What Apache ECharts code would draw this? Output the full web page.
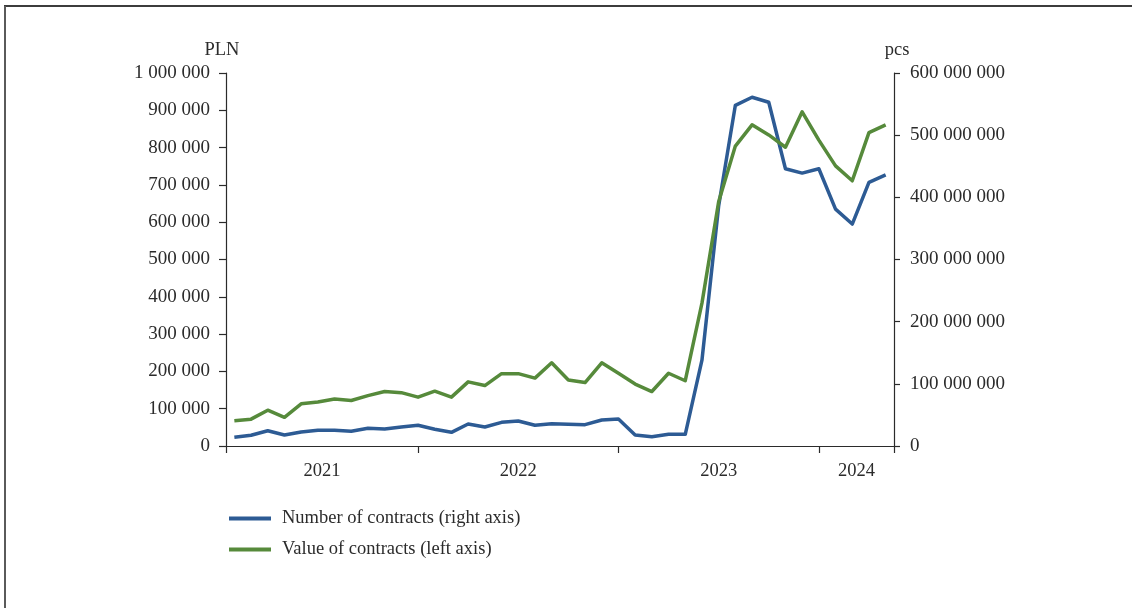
<!DOCTYPE html>
<html>
<head>
<meta charset="utf-8">
<script src="https://cdn.jsdelivr.net/npm/echarts@6/dist/echarts.min.js"></script>
<style>
  html, body { margin: 0; padding: 0; background: #ffffff; }
  #chart { width: 1132px; height: 608px; }
</style>
</head>
<body>
<div id="chart"></div>
<script>
// Monthly observations, Jan 2021 – Apr 2024
const months = [
  '2021-01','2021-02','2021-03','2021-04','2021-05','2021-06','2021-07','2021-08','2021-09','2021-10','2021-11','2021-12',
  '2022-01','2022-02','2022-03','2022-04','2022-05','2022-06','2022-07','2022-08','2022-09','2022-10','2022-11','2022-12',
  '2023-01','2023-02','2023-03','2023-04','2023-05','2023-06','2023-07','2023-08','2023-09','2023-10','2023-11','2023-12',
  '2024-01','2024-02','2024-03','2024-04'
];

// Year labels shown under the time axis
const years = ['2021', '2022', '2023', '2024'];

// Number of contracts, pcs (right axis)
const contractsCount = [
  14000000, 17200000, 24600000, 17700000, 22500000, 25300000, 25300000, 23600000, 28500000, 27300000, 30600000, 33300000,
  26900000, 22000000, 35400000, 30600000, 38100000, 40200000, 33300000, 35900000, 34900000, 34300000, 41800000, 43400000,
  17700000, 15000000, 18800000, 18800000, 138000000, 386000000, 548000000, 561000000, 553000000, 446000000, 439000000, 446000000,
  381000000, 357000000, 424000000, 436000000
];

// Value of contracts, PLN (left axis)
const contractsValue = [
  68000, 72000, 96000, 77000, 113000, 118000, 126000, 122000, 135000, 146000, 143000, 131000,
  147000, 131000, 172000, 162000, 194000, 194000, 182000, 223000, 177000, 170000, 223000, 195000,
  166000, 146000, 195000, 175000, 383000, 655000, 804000, 861000, 834000, 801000, 896000, 820000,
  751000, 711000, 840000, 861000
];

// Left and right value-axis ranges
const leftAxisTicks = [0, 100000, 200000, 300000, 400000, 500000, 600000, 700000, 800000, 900000, 1000000];
const rightAxisTicks = [0, 100000000, 200000000, 300000000, 400000000, 500000000, 600000000];

const BLUE = '#2d5b94';
const GREEN = '#568a3b';
const INK = '#2b2b2b';
const FONT = '"Liberation Serif", "Times New Roman", serif';

// Year dividers on a continuous 0..N scale (one unit per month band):
// a divider sits at the centre of each December, labels sit halfway between dividers.
const n = months.length;
const yearBounds = [0];
years.forEach(function (y) {
  let last = -1;
  months.forEach(function (m, i) { if (m.slice(0, 4) === y) last = i; });
  yearBounds.push(last === n - 1 ? n : last + 0.5);
});
const yearLabelPos = years.map(function (y, i) { return (yearBounds[i] + yearBounds[i + 1]) / 2; });

function spaced(v) {
  return String(v).replace(/\B(?=(\d{3})+(?!\d))/g, ' ');
}

const chart = echarts.init(document.getElementById('chart'), null, { renderer: 'canvas' });

chart.setOption({
  animation: false,
  backgroundColor: '#ffffff',
  textStyle: { fontFamily: FONT, color: INK },
  graphic: [
    { type: 'line', shape: { x1: 4, y1: 6, x2: 1132, y2: 6 }, style: { stroke: '#3c3c3c', lineWidth: 2 } },
    { type: 'line', shape: { x1: 5, y1: 6, x2: 5, y2: 608 }, style: { stroke: '#5a5a5a', lineWidth: 2 } }
  ],
  grid: { left: 226, right: 238, top: 73, bottom: 162, containLabel: false },
  legend: {
    orient: 'vertical',
    left: 224,
    top: 503,
    icon: 'rect',
    itemWidth: 42,
    itemHeight: 4,
    itemGap: 10,
    textStyle: { fontFamily: FONT, fontSize: 18.5, color: INK, lineHeight: 21, padding: [0, 0, 0, 6] },
    data: ['Number of contracts (right axis)', 'Value of contracts (left axis)']
  },
  xAxis: [
    {
      type: 'category',
      data: months,
      boundaryGap: true,
      show: false
    },
    {
      type: 'value',
      min: 0,
      max: n,
      position: 'bottom',
      splitLine: { show: false },
      axisLine: { show: true, lineStyle: { color: INK, width: 1.2 } },
      axisTick: {
        show: true,
        customValues: yearBounds,
        length: 7,
        lineStyle: { color: INK, width: 1.2 }
      },
      axisLabel: {
        customValues: yearLabelPos,
        margin: 16,
        fontFamily: FONT,
        fontSize: 18.5,
        color: INK,
        formatter: function (v) {
          let best = 0;
          yearLabelPos.forEach(function (p, i) {
            if (Math.abs(p - v) < Math.abs(yearLabelPos[best] - v)) best = i;
          });
          return years[best];
        }
      }
    }
  ],
  yAxis: [
    {
      type: 'value',
      position: 'left',
      min: leftAxisTicks[0],
      max: leftAxisTicks[leftAxisTicks.length - 1],
      interval: leftAxisTicks[1] - leftAxisTicks[0],
      name: 'PLN',
      nameLocation: 'end',
      nameGap: 13,
      nameTextStyle: { fontFamily: FONT, fontSize: 18.5, color: INK, align: 'center', padding: [0, 0, 0, -8] },
      splitLine: { show: false },
      axisLine: { show: true, lineStyle: { color: INK, width: 1.2 } },
      axisTick: { show: true, length: 7, lineStyle: { color: INK, width: 1.2 } },
      axisLabel: { margin: 16, fontFamily: FONT, fontSize: 19, color: INK, formatter: spaced }
    },
    {
      type: 'value',
      position: 'right',
      min: rightAxisTicks[0],
      max: rightAxisTicks[rightAxisTicks.length - 1],
      interval: rightAxisTicks[1] - rightAxisTicks[0],
      name: 'pcs',
      nameLocation: 'end',
      nameGap: 13,
      nameTextStyle: { fontFamily: FONT, fontSize: 18.5, color: INK, align: 'center', padding: [0, 0, 0, 6] },
      splitLine: { show: false },
      axisLine: { show: true, lineStyle: { color: INK, width: 1.2 } },
      axisTick: { show: true, length: 6, lineStyle: { color: INK, width: 1.2 } },
      axisLabel: { margin: 16, fontFamily: FONT, fontSize: 19, color: INK, formatter: spaced }
    }
  ],
  series: [
    {
      name: 'Number of contracts (right axis)',
      type: 'line',
      xAxisIndex: 0,
      yAxisIndex: 1,
      data: contractsCount,
      symbol: 'none',
      lineStyle: { color: BLUE, width: 3.5, join: 'round' },
      itemStyle: { color: BLUE }
    },
    {
      name: 'Value of contracts (left axis)',
      type: 'line',
      xAxisIndex: 0,
      yAxisIndex: 0,
      data: contractsValue,
      symbol: 'none',
      lineStyle: { color: GREEN, width: 3.5, join: 'round' },
      itemStyle: { color: GREEN }
    }
  ]
});
</script>
</body>
</html>
